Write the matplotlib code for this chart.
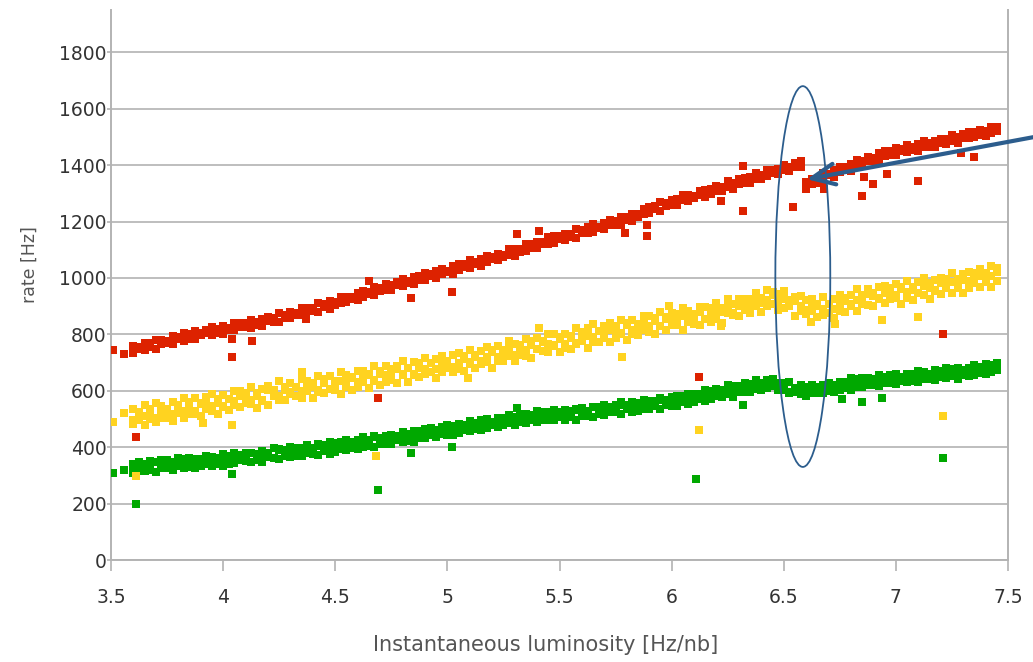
import matplotlib
matplotlib.use("Agg")
import matplotlib.pyplot as plt
from matplotlib.patches import Ellipse

# ---------------- data ----------------
LUMI = [3.600, 3.625, 3.650, 3.675, 3.700, 3.725, 3.750, 3.775, 3.800, 3.825, 3.850, 3.875, 3.900, 3.925, 3.950, 3.975,
        4.000, 4.025, 4.050, 4.075, 4.100, 4.125, 4.150, 4.175, 4.200, 4.225, 4.250, 4.275, 4.300, 4.325, 4.350, 4.375,
        4.400, 4.425, 4.450, 4.475, 4.500, 4.525, 4.550, 4.575, 4.600, 4.625, 4.650, 4.675, 4.700, 4.725, 4.750, 4.775,
        4.800, 4.825, 4.850, 4.875, 4.900, 4.925, 4.950, 4.975,
        5.000, 5.025, 5.050, 5.075, 5.100, 5.125, 5.150, 5.175, 5.200, 5.225, 5.250, 5.275, 5.300, 5.325, 5.350, 5.375,
        5.400, 5.425, 5.450, 5.475, 5.500, 5.525, 5.550, 5.575, 5.600, 5.625, 5.650, 5.675, 5.700, 5.725, 5.750, 5.775,
        5.800, 5.825, 5.850, 5.875, 5.900, 5.925, 5.950, 5.975,
        6.000, 6.025, 6.050, 6.075, 6.100, 6.125, 6.150, 6.175, 6.200, 6.225, 6.250, 6.275, 6.300, 6.325, 6.350, 6.375,
        6.400, 6.425, 6.450, 6.475, 6.500, 6.525, 6.550, 6.575, 6.600, 6.625, 6.650, 6.675, 6.700, 6.725, 6.750, 6.775,
        6.800, 6.825, 6.850, 6.875, 6.900, 6.925, 6.950, 6.975,
        7.000, 7.025, 7.050, 7.075, 7.100, 7.125, 7.150, 7.175, 7.200, 7.225, 7.250, 7.275, 7.300, 7.325, 7.350, 7.375,
        7.400, 7.425, 7.450]

RED_UPPER = [760, 756, 771, 768, 781, 779, 778, 793, 791, 806, 802, 812, 804, 817, 825, 819,
             828, 822, 839, 840, 839, 852, 845, 854, 863, 857, 876, 869, 879, 875, 893, 894, 895, 910, 909, 918, 913, 934, 932, 933,
             948, 952, 949, 969, 965, 978, 976, 986, 998, 989, 1004, 1006, 1018, 1013, 1023, 1033,
             1026, 1042, 1049, 1048, 1064, 1057, 1068, 1078, 1075, 1086, 1083, 1103, 1101, 1103, 1119, 1119, 1129, 1126, 1145, 1149,
             1148, 1157, 1156, 1174, 1170, 1180, 1191, 1182, 1194, 1204, 1201, 1217, 1216, 1227, 1225, 1246, 1252, 1254, 1270, 1265,
             1278, 1279, 1294, 1293, 1292, 1308, 1312, 1314, 1326, 1321, 1342, 1336, 1350, 1354, 1357, 1371, 1366, 1384, 1384, 1387,
             1401, 1393, 1408, 1416, 1340, 1350, 1348, 1371, 1370, 1382, 1395, 1395, 1404, 1419, 1414, 1430, 1427, 1442, 1450, 1450,
             1462, 1458, 1471, 1464, 1475, 1485, 1478, 1485, 1492, 1492, 1507, 1499, 1511, 1517, 1516, 1525, 1521, 1535, 1535]

RED_LOWER = [735, 749, 746, 755, 749, 766, 768, 766, 784, 778, 785, 783, 797, 804, 798, 806,
             801, 817, 815, 825, 826, 823, 834, 829, 849, 845, 845, 858, 857, 870, 867, 882, 882, 880, 897, 889, 905, 912, 913, 926,
             922, 932, 944, 938, 953, 956, 958, 975, 971, 983, 977, 991, 993, 1006, 1001, 1013,
             1022, 1015, 1027, 1038, 1037, 1048, 1044, 1055, 1067, 1062, 1073, 1083, 1077, 1092, 1095, 1107, 1105, 1122, 1121, 1125,
             1139, 1133, 1146, 1141, 1158, 1160, 1162, 1177, 1175, 1187, 1189, 1187, 1207, 1203, 1215, 1226, 1229, 1244, 1238, 1256,
             1260, 1259, 1275, 1272, 1283, 1293, 1286, 1297, 1307, 1308, 1322, 1314, 1332, 1337, 1337, 1352, 1351, 1360, 1373, 1367,
             1382, 1380, 1394, 1393, 1317, 1333, 1338, 1345, 1364, 1359, 1374, 1384, 1379, 1394, 1399, 1415, 1416, 1417, 1432, 1436,
             1436, 1450, 1446, 1454, 1450, 1465, 1465, 1463, 1477, 1474, 1484, 1479, 1495, 1495, 1498, 1507, 1503, 1513, 1522]

YELLOW_A = [536, 523, 548, 536, 557, 546, 537, 560, 549, 575, 561, 576, 556, 577, 588, 572,
            585, 571, 600, 600, 593, 614, 593, 607, 618, 602, 634, 615, 629, 614, 641, 636, 629, 652, 641, 653, 634, 667, 656, 650,
            671, 670, 657, 688, 671, 689, 677, 688, 704, 680, 703, 699, 717, 700, 711, 725,
            702, 726, 733, 723, 746, 726, 742, 755, 743, 757, 744, 776, 765, 761, 783, 776, 786, 772, 802, 801,
            791, 803, 795, 823, 809, 823, 836, 812, 828, 840, 828, 851, 841, 851, 835, 864, 864, 858, 881, 861,
            877, 872, 893, 884, 873, 898, 897, 895, 910, 893, 926, 907, 926, 927, 926, 947, 930, 959, 950, 942,
            953, 921, 934, 936, 921, 927, 908, 932, 909, 925, 941, 930, 940, 961, 940, 961, 946, 967, 973, 966,
            980, 967, 989, 968, 985, 1000, 981, 992, 1001, 995, 1019, 996, 1014, 1022, 1016, 1031, 1019, 1041, 1035]

YELLOW_B = [497, 520, 509, 521, 504, 531, 528, 517, 546, 530, 538, 529, 553, 562, 545, 557,
            542, 572, 563, 581, 578, 567, 582, 568, 601, 589, 583, 604, 596, 615, 600, 623, 614, 603, 628, 606, 629, 634, 629, 647,
            630, 641, 658, 637, 658, 656, 652, 677, 661, 679, 660, 680, 678, 697, 678, 696,
            705, 683, 700, 714, 703, 719, 705, 720, 738, 720, 735, 747, 728, 750, 746, 763, 749, 775, 765, 764,
            784, 766, 786, 768, 796, 794, 789, 813, 801, 817, 815, 802, 834, 814, 826, 835, 829, 849, 828, 854,
            852, 843, 866, 853, 866, 879, 856, 872, 883, 878, 897, 874, 901, 904, 897, 920, 911, 922, 939, 913,
            926, 906, 917, 901, 886, 904, 899, 891, 908, 890, 910, 919, 901, 922, 921, 942, 935, 928, 948, 949,
            939, 962, 950, 959, 946, 971, 966, 959, 982, 970, 984, 967, 993, 989, 991, 1006, 994, 1008, 1020]

YELLOW_C = [482, 495, 480, 500, 491, 504, 503, 492, 521, 505, 519, 516, 512, 537, 528, 518,
            545, 531, 550, 542, 555, 554, 539, 563, 550, 580, 568, 567, 587, 580, 573, 598, 575, 596, 591, 607, 604, 587, 614, 604,
            613, 630, 609, 634, 621, 631, 639, 628, 656, 632, 657, 649, 659, 666, 647, 665,
            680, 666, 677, 669, 696, 682, 696, 703, 681, 705, 704, 722, 707, 727, 723, 716, 748, 742, 736, 757,
            737, 753, 749, 767, 775, 753, 774, 772, 788, 774, 786, 805, 781, 803, 797, 816, 810, 802, 831, 815,
            833, 832, 815, 844, 837, 832, 855, 845, 856, 841, 874, 867, 864, 885, 876, 901, 878, 899, 908, 888,
            895, 901, 864, 882, 871, 883, 862, 870, 877, 859, 883, 878, 906, 883, 908, 905, 900, 927, 911, 924,
            930, 907, 929, 922, 945, 940, 925, 952, 943, 965, 947, 964, 948, 964, 982, 967, 987, 969, 989]

GREEN_A = [340, 347, 340, 350, 346, 353, 353, 347, 362, 354, 361, 359, 357, 370, 366, 361,
           375, 368, 378, 374, 381, 381, 375, 387, 381, 396, 391, 391, 401, 398, 396, 409, 398, 410, 408, 417, 416, 409, 424, 419,
           425, 435, 425, 439, 433, 439, 444, 440, 455, 445, 459, 457, 463, 468, 461, 471,
           480, 474, 481, 478, 493, 487, 496, 501, 491, 504, 504, 514, 507, 518, 516, 513, 529, 526, 523, 533,
           523, 531, 528, 537, 540, 530, 541, 541, 549, 543, 549, 560, 548, 560, 557, 568, 565, 562, 576, 569,
           578, 580, 574, 590, 589, 589, 603, 599, 607, 601, 619, 616, 616, 627, 624, 637, 626, 638, 643, 629,
           629, 631, 611, 619, 613, 622, 614, 621, 627, 619, 631, 630, 644, 633, 646, 644, 642, 656, 649, 655,
           659, 649, 660, 658, 670, 668, 661, 675, 671, 682, 673, 681, 673, 682, 691, 685, 695, 687, 697]

GREEN_B = [307, 319, 314, 320, 312, 326, 325, 319, 334, 326, 330, 325, 337, 342, 334, 340,
           333, 348, 344, 353, 352, 347, 356, 349, 366, 360, 358, 369, 365, 375, 369, 381, 377, 373, 386, 376, 388, 392, 391, 400,
           393, 400, 409, 400, 411, 411, 410, 424, 417, 428, 420, 432, 432, 443, 436, 446,
           452, 442, 452, 460, 456, 465, 460, 469, 479, 471, 479, 486, 477, 489, 487, 496, 489, 502, 497, 496,
           506, 497, 506, 497, 510, 510, 508, 521, 515, 524, 523, 518, 534, 525, 531, 537, 534, 545, 534, 548,
           547, 545, 559, 554, 563, 572, 563, 572, 580, 579, 590, 579, 594, 596, 594, 606, 602, 609, 618, 601,
           604, 593, 597, 588, 580, 592, 592, 591, 602, 594, 604, 610, 601, 612, 612, 622, 619, 616, 627, 627,
           623, 636, 630, 636, 630, 643, 641, 638, 650, 644, 651, 642, 655, 654, 655, 664, 658, 666, 672]

GREEN_C = [331, 317, 341, 327, 347, 335, 325, 346, 334, 358, 342, 355, 333, 353, 363, 345,
           357, 341, 369, 367, 359, 379, 358, 370, 380, 362, 393, 373, 385, 369, 396, 390, 382, 405, 393, 404, 384, 417, 406, 398,
           419, 418, 404, 435, 417, 434, 421, 432, 447, 423, 446, 442, 459, 442, 454, 467,
           444, 467, 474, 463, 486, 465, 481, 494, 481, 494, 479, 510, 497, 492, 512, 503, 511, 495, 523, 520,
           508, 518, 507, 533, 516, 529, 541, 516, 530, 541, 527, 550, 538, 547, 529, 558, 556, 549, 569, 548,
           562, 558, 580, 571, 561, 587, 587, 584, 600, 582, 614, 593, 611, 610, 608, 627, 608, 636, 625, 614,
           623, 594, 609, 612, 598, 608, 592, 620, 600, 614, 627, 615, 622, 641, 618, 636, 619, 639, 645, 636,
           650, 637, 657, 636, 652, 666, 646, 656, 664, 656, 678, 653, 669, 676, 668, 683, 669, 690, 682]

# isolated points
RED_OUT_X = [3.51, 3.56, 3.61, 4.04, 4.04, 4.13, 4.37, 4.69, 4.65, 4.84, 5.02, 5.31, 5.41, 5.79, 5.89, 5.89,
             6.22, 6.32, 6.32, 6.54, 6.68, 6.85, 6.86, 6.90, 6.96, 7.10, 7.29, 7.35, 6.12, 7.21]
RED_OUT_Y = [746, 732, 437, 785, 718, 775, 853, 575, 990, 930, 950, 1155, 1168, 1158, 1186, 1147,
             1272, 1236, 1396, 1250, 1314, 1290, 1357, 1332, 1368, 1343, 1442, 1428, 650, 803]
YEL_OUT_X = [3.51, 3.56, 3.61, 4.68, 4.35, 3.91, 4.04, 5.41, 5.78, 5.99, 5.09, 6.12, 7.21, 6.94, 7.10, 6.22, 6.62, 6.73]
YEL_OUT_Y = [490, 522, 298, 370, 668, 487, 480, 824, 721, 902, 646, 462, 512, 852, 863, 828, 845, 835]
GRN_OUT_X = [3.51, 3.56, 3.61, 4.69, 5.31, 4.84, 5.02, 6.11, 7.21, 6.32, 6.85, 6.94, 6.76, 4.04]
GRN_OUT_Y = [309, 320, 199, 249, 540, 380, 401, 288, 362, 551, 561, 575, 572, 305]

X_TICKS = [3.5, 4, 4.5, 5, 5.5, 6, 6.5, 7, 7.5]
X_TICK_LABELS = ["3.5", "4", "4.5", "5", "5.5", "6", "6.5", "7", "7.5"]
Y_TICKS = [0, 200, 400, 600, 800, 1000, 1200, 1400, 1600, 1800]
Y_TICK_LABELS = ["0", "200", "400", "600", "800", "1000", "1200", "1400", "1600", "1800"]

X_LABEL = "Instantaneous luminosity [Hz/nb]"
Y_LABEL = "rate [Hz]"

RED = "#dd2200"
YELLOW = "#ffd320"
GREEN = "#00a800"
GRID = "#b3b3b3"
ANNOT = "#2c5d8d"

# ---------------- figure ----------------
W, H = 1033, 662
fig = plt.figure(figsize=(W / 100, H / 100), dpi=100)
ax = fig.add_axes([111 / W, 1 - 560 / H, (1008 - 111) / W, (560 - 10) / H])
ax.set_xlim(3.5, 7.5)
ax.set_ylim(0, 1950)

ms = 27
for ys in (GREEN_A, GREEN_B, GREEN_C):
    ax.scatter(LUMI[:len(ys)], ys[:len(LUMI)], s=ms, marker="s", c=GREEN, linewidths=0, zorder=3)
ax.scatter(GRN_OUT_X, GRN_OUT_Y, s=ms, marker="s", c=GREEN, linewidths=0, zorder=3)
for ys in (YELLOW_A, YELLOW_B, YELLOW_C):
    ax.scatter(LUMI[:len(ys)], ys[:len(LUMI)], s=ms, marker="s", c=YELLOW, linewidths=0, zorder=3)
ax.scatter(YEL_OUT_X, YEL_OUT_Y, s=ms, marker="s", c=YELLOW, linewidths=0, zorder=3)
for ys in (RED_UPPER, RED_LOWER):
    ax.scatter(LUMI[:len(ys)], ys[:len(LUMI)], s=ms, marker="s", c=RED, linewidths=0, zorder=3)
ax.scatter(RED_OUT_X, RED_OUT_Y, s=ms, marker="s", c=RED, linewidths=0, zorder=3)

ax.set_xticks(X_TICKS)
ax.set_xticklabels(X_TICK_LABELS)
ax.set_yticks(Y_TICKS)
ax.set_yticklabels(Y_TICK_LABELS)
ax.grid(axis="y", color=GRID, linewidth=1.2)
ax.set_axisbelow(True)
for side in ("left", "right", "bottom"):
    ax.spines[side].set_color(GRID)
    ax.spines[side].set_linewidth(1.4)
ax.spines["top"].set_visible(False)
ax.tick_params(axis="x", length=8, width=1.2, color=GRID, pad=12,
               labelsize=13.5, labelcolor="#333333")
ax.tick_params(axis="y", length=3, width=1.2, color=GRID, pad=0,
               labelsize=13.5, labelcolor="#333333")

fig.text(546 / W, 1 - 645 / H, X_LABEL, ha="center", va="center",
         fontsize=15, color="#555555")
fig.text(30 / W, 1 - 265 / H, Y_LABEL, ha="center", va="center",
         rotation=90, fontsize=12.5, color="#555555")

# annotation: ellipse + arrow
ax.add_patch(Ellipse((6.585, 1005), 0.245, 1350, fill=False,
                     edgecolor=ANNOT, linewidth=1.3, zorder=5, clip_on=False))
ax.annotate("", xy=(6.603, 1350), xycoords="data",
            xytext=(1045, H - 135), textcoords="figure pixels",
            arrowprops=dict(arrowstyle="->,head_length=0.55,head_width=0.25",
                            lw=3, color=ANNOT, mutation_scale=30,
                            shrinkA=0, shrinkB=0),
            annotation_clip=False, zorder=6)

fig.savefig("out.png", dpi=100)
